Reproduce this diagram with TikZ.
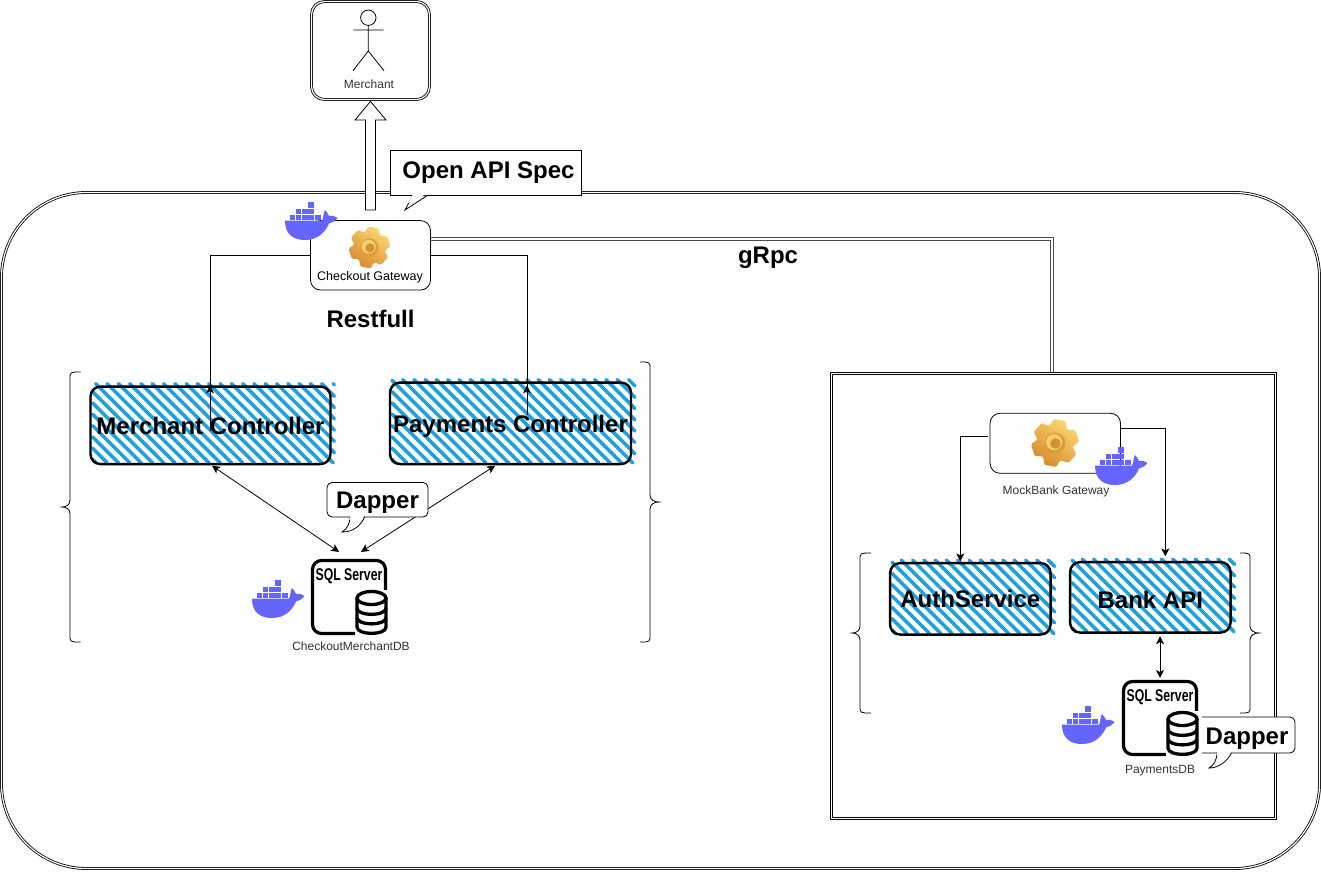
\documentclass[tikz,border=0pt]{standalone}
\usepackage{fontspec}
\usepackage{graphicx}
\setmainfont{Liberation Sans}
\usetikzlibrary{arrows.meta,calc}
\definecolor{hatchblue}{HTML}{1BA1E2}
\definecolor{dockerblue}{HTML}{6464FF}
\definecolor{labelgray}{HTML}{333333}
\definecolor{gearlight}{HTML}{FBD774}
\definecolor{geardark}{HTML}{D98A2B}
\definecolor{gearring}{HTML}{DE9C38}
\definecolor{gearface}{HTML}{F6CF6B}
\definecolor{gearhole}{HTML}{D2922F}
\tikzset{
  thinbox/.style={draw=black,line width=0.8pt,fill=white,rounded corners=10pt,inner sep=0pt},
  dblbox/.style={draw=black,fill=white,line width=0.8pt,double=white,double distance=1.2pt,inner sep=0pt},
  dblwire/.style={draw=black!70,line width=0.9pt},
  heavybox/.style={draw=black,line width=2.4pt,rounded corners=10pt,inner sep=0pt,text depth=0pt,font=\fontsize{24}{28}\selectfont\bfseries},
  biglabel/.style={font=\fontsize{24}{28}\selectfont\bfseries,inner sep=0pt},
  smalllabel/.style={font=\fontsize{12}{14}\selectfont,text=labelgray,inner sep=0pt},
  wire/.style={draw=black,line width=0.8pt},
  tipped/.style={wire,-{Stealth[length=8pt,width=8pt,inset=2.2pt]}},
  twotips/.style={wire,{Stealth[length=8pt,width=8pt,inset=2.2pt]}-{Stealth[length=8pt,width=8pt,inset=2.2pt]}},
  callout/.style={draw=black,line width=0.8pt,fill=white,inner sep=0pt},
  bracket/.style={draw=black,line width=0.8pt},
  iconline/.style={draw=black,line width=3.3pt}
}
% stripes running down to the right, with round ends that stick out of the top and the right
\newcommand{\hatchfill}[4]{%
  \begin{scope}
    \foreach \k in {0,...,40}{
      \pgfmathsetmacro\cc{#1-#2+7-11.3*10+\k*11.3-(#4-#2)+90}
      \pgfmathsetmacro\sx{max(\cc+#2-3,#1+2)}
      \pgfmathsetmacro\ex{min(\cc+#4-1,#3+4)}
      \ifdim\ex pt>\sx pt
        \draw[hatchblue,line width=3.5pt,line cap=round] (\sx,\sx-\cc) -- (\ex,\ex-\cc);
      \fi
    }
  \end{scope}}
\newcommand{\whale}[2]{%
  \begin{scope}[shift={(#1,#2)}]
    \fill[dockerblue] (0,18.5) -- (37,18.5) .. controls (39,15) and (38,11) .. (40,8)
      .. controls (42,10) and (43,12) .. (44,14) .. controls (47,13) and (50,14) .. (52.7,16)
      .. controls (50,19) and (47,21) .. (44,21.5) .. controls (40,31) and (32,38) .. (20,38)
      .. controls (8,38) and (0,32) .. (0,18.5) -- cycle;
    \foreach \a/\b/\c in {23.4/0/5.7, 10.8/6.6/12.2, 17.3/6.6/12.2, 23.4/6.6/12.2,
                          4.7/12.7/17.8, 10.8/12.7/17.8, 17.3/12.7/17.8, 23.4/12.7/17.8, 30/12.7/17.8}
      \fill[dockerblue] (\a,\b) rectangle (\a+5.6,\c);
  \end{scope}}
\newcommand{\gearicon}[3]{%
  \begin{scope}[shift={(#1,#2)},scale=#3]
    \shade[top color=gearlight,bottom color=geardark,shading angle=-35,rounded corners=1.5pt]
      (15:16) foreach \a in {15,75,135,195,255,315}{
        -- (\a+0:16) -- (\a+12:21) -- (\a+42:21) -- (\a+54:16) } -- cycle;
    \fill[gearring] (0,0) circle[radius=9];
    \fill[gearface] (-0.8,-0.8) circle[radius=7];
    \fill[gearhole] (0.4,0.4) circle[radius=4.6];
  \end{scope}}
\newcommand{\sqlicon}[3]{%
  \node[draw=black,line width=3.2pt,rounded corners=9pt,minimum width=73pt,minimum height=73pt,inner sep=0pt] (#1) at (#2+38,#3+38) {};
  \node[font=\fontsize{17}{20}\selectfont\bfseries,inner sep=0pt] at (#2+38,#3+17) {\scalebox{0.72}[1]{SQL Server}};
  \begin{scope}[shift={(#2,#3)}]
    \fill[white] (44,31) rectangle (80,80);
    \draw[iconline,fill=white] (46,39) -- (46,68) .. controls (46,76.5) and (75,76.5) .. (75,68) -- (75,39);
    \draw[iconline,fill=white] (60.5,39) ellipse [x radius=14.5pt,y radius=6.5pt];
    \draw[iconline] (46,49) .. controls (46,57.5) and (75,57.5) .. (75,49);
    \draw[iconline] (46,58.5) .. controls (46,67) and (75,67) .. (75,58.5);
  \end{scope}}
\newcommand{\curlybrace}[5]{% xend xspine xtip ytop ybottom
  \pgfmathsetmacro\ym{(#4+#5)/2}
  \pgfmathsetmacro\xq{(#2+#3)/2}
  \draw[bracket] (#1,#4) .. controls (#2,#4) and (#2,#4) .. (#2,#4+7)
     -- (#2,\ym-7) .. controls (#2,\ym-2) and (\xq,\ym) .. (#3,\ym)
     .. controls (\xq,\ym) and (#2,\ym+2) .. (#2,\ym+7)
     -- (#2,#5-7) .. controls (#2,#5) and (#2,#5) .. (#1,#5);}
\begin{document}
\begin{tikzpicture}[x=1pt,y=-1pt]
\useasboundingbox (0,0) rectangle (1321,871);
\fill[white] (0,0) rectangle (1321,871);

% outer frame
\node[dblbox,rounded corners=85pt,minimum width=1318pt,minimum height=676pt] (frame) at (660.5,530.5) {};

% merchant
\node[dblbox,rounded corners=13pt,minimum width=118pt,minimum height=98pt] (merch) at (370.5,50.5) {};
\node[smalllabel] (merchlabel) at (369,84) {Merchant};
\draw[line width=0.8pt] (368.3,17.7) circle[radius=7.7pt];
\draw[line width=0.8pt] (368.3,25.4) -- (368.3,51) (353.3,30) -- (383.7,30) (353,70.7) -- (368.3,51) -- (384,70.7);

% hollow arrow to the merchant
\coordinate (aBase) at (370.5,210);
\draw[draw=black,line width=0.8pt,fill=white]
  ($(aBase)+(-5,0)$) -- ($(aBase)+(-5,-90)$) -- ($(aBase)+(-15.5,-90)$) -- ($(merch.south)+(0,1.5)$)
  -- ($(aBase)+(15.5,-90)$) -- ($(aBase)+(5,-90)$) -- ($(aBase)+(5,0)$) -- cycle;

% gateway
\node[thinbox,minimum width=120pt,minimum height=69.5pt] (gw) at (370.5,255.3) {};
\gearicon{369.5}{247.5}{1}
\node[font=\fontsize{12.5}{14}\selectfont,inner sep=0pt] (gwlabel) at (370,277) {Checkout Gateway};
\whale{285}{202}

% open api callout
\draw[line width=0.8pt] (413,195) -- (405,210) -- (428,195);
\node[callout,minimum width=190.5pt,minimum height=45pt,anchor=north west] (spec) at (390,150) {};
\fill[white] (413.5,193.5) -- (408,203) -- (427,193.5) -- (427,195) -- (413.5,195) -- cycle;
\node[biglabel] (speclabel) at (488.5,173) {Open API Spec};

% labels
\node[biglabel] (restlabel) at (370.5,319) {Restfull};
\node[biglabel] (grpclabel) at (768,258) {gRpc};

% mock bank frame
\node[dblbox,minimum width=444pt,minimum height=445pt] (inner) at (1053.5,596) {};

% left hatched boxes
\hatchfill{90.5}{386.5}{330.5}{464}
\node[heavybox,minimum width=240pt,minimum height=77.5pt] (mc) at (210.5,425.3) {Merchant Controller};
\hatchfill{390}{382.5}{631}{464}
\node[heavybox,minimum width=241pt,minimum height=81.5pt] (pc) at (510.5,423.3) {Payments Controller};

% gateway to controllers
\coordinate (mcIn) at (210,431);
\coordinate (pcIn) at (527,415);
\draw[wire] (gw.west) -| (mcIn);
\draw[wire] (gw.east) -| (pcIn);
\draw[tipped] (mcIn) -- (mcIn |- mc.north);
\draw[tipped] (pcIn) -- ($(pcIn |- pc.north)+(0,4)$);

% checkout database
\sqlicon{sqlA}{311}{559}
\node[smalllabel] (sqlAlabel) at (351,646) {CheckoutMerchantDB};
\whale{252}{580}
\draw[twotips] ($(mc.south)+(1.5,0.5)$) -- ($(sqlA.north)+(-10,-7)$);
\draw[twotips] ($(pc.south)+(-15.5,0.5)$) -- ($(sqlA.north)+(12,-7)$);

% dapper callout, left
\coordinate (dapATip) at (342,532);
\draw[line width=0.8pt,fill=white] (350,516) .. controls (350,524) and (347,529) .. (dapATip) .. controls (353,532) and (361,526) .. (365,516) -- cycle;
\node[callout,rounded corners=5pt,minimum width=101pt,minimum height=34.5pt] (dapA) at (377.5,499.7) {};
\fill[white] (351,515.5) -- (364,515.5) -- (362,519.5) -- (349,519.5) -- cycle;
\node[biglabel] (dapAlabel) at (377.5,503) {Dapper};

% braces
\curlybrace{80.5}{70}{62}{372}{642}
\curlybrace{640}{650}{659}{362}{642}
\curlybrace{871}{860}{852}{553}{713}
\curlybrace{1240}{1250}{1259}{553}{713}

% mock gateway
\node[thinbox,minimum width=130.5pt,minimum height=60pt] (mock) at (1055.3,443.3) {};
\gearicon{1055}{443}{1.15}
\node[smalllabel] (mocklabel) at (1056,491) {MockBank Gateway};
\whale{1095}{447}

% hatched boxes, right
\hatchfill{890}{563}{1050.5}{634.5}
\node[heavybox,minimum width=160.5pt,minimum height=71.5pt] (auth) at (970.3,598.8) {AuthService};
\hatchfill{1070}{562}{1230.5}{632.5}
\node[heavybox,minimum width=160.5pt,minimum height=70.5pt,text height=23pt] (bank) at (1150.3,597.3) {Bank API};

\coordinate (mockL) at ($(mock.west)+(-2,-6.5)$);
\draw[tipped] (mockL) -| ($(auth.north)+(-10,-0.5)$);
\draw[tipped] ($(mock.east)+(0,-15)$) -| ($(bank.north)+(15,-4.5)$);

% dapper callout, right
\coordinate (dapBTip) at (1209,768);
\draw[line width=0.8pt,fill=white] (1217,752) .. controls (1217,760) and (1214,765) .. (dapBTip) .. controls (1218,768) and (1227,762) .. (1232,752) -- cycle;
\node[callout,rounded corners=5pt,minimum width=104pt,minimum height=36pt] (dapB) at (1243,735) {};
\fill[white] (1218,751.5) -- (1231,751.5) -- (1229,755) -- (1216.5,755) -- cycle;
\node[biglabel] (dapBlabel) at (1247,739) {Dapper};

% payments database
\sqlicon{sqlB}{1122}{680}
\node[smalllabel] (sqlBlabel) at (1160,771) {PaymentsDB};
\whale{1062}{706}
\draw[twotips] ($(bank.south)+(9.7,2.5)$) -- ($(sqlB.north)+(0,-2)$);

% gRpc link, two parallel wires
\coordinate (grpcA) at ($(gw.east)+(-0.5,-18.3)$);
\coordinate (grpcB) at ($(gw.east)+(-0.5,-15.3)$);
\coordinate (grpcC) at ($(inner.north)+(0,-1.5)$);
\coordinate (grpcD) at ($(inner.north)+(-3,-1.5)$);
\draw[dblwire] (grpcA) -| (grpcC);
\draw[dblwire] (grpcB) -| (grpcD);
\end{tikzpicture}
\end{document}
